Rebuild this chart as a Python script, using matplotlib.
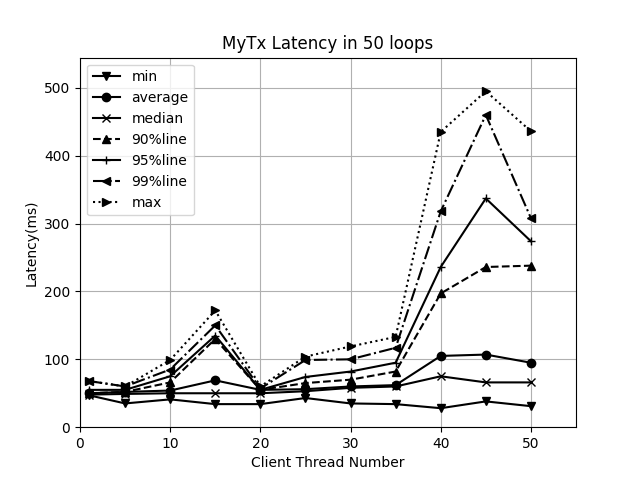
import matplotlib
matplotlib.use("Agg")
import matplotlib.pyplot as plt

threads = [1, 5, 10, 15, 20, 25, 30, 35, 40, 45, 50]

lat_min = [47, 35, 41, 34, 34, 43, 35, 34, 28, 38, 31]
lat_avg = [50, 52, 54, 69, 55, 56, 60, 62, 105, 107, 95]
lat_median = [48, 49, 50, 50, 50, 53, 58, 60, 75, 66, 66]
lat_90 = [50, 52, 66, 130, 55, 65, 70, 82, 197, 236, 238]
lat_95 = [55, 55, 75, 135, 55, 74, 82, 95, 236, 337, 274]
lat_99 = [68, 60, 85, 150, 57, 99, 100, 117, 318, 460, 308]
lat_max = [68, 60, 99, 172, 60, 104, 119, 133, 435, 495, 436]

series = [
    ("min", lat_min, "-", "v"),
    ("average", lat_avg, "-", "o"),
    ("median", lat_median, "-", "x"),
    ("90%line", lat_90, "--", "^"),
    ("95%line", lat_95, "-", "+"),
    ("99%line", lat_99, "-.", "<"),
    ("max", lat_max, ":", ">"),
]

fig, ax = plt.subplots(figsize=(6.4, 4.8), dpi=100)
for name, vals, ls, mk in series:
    ax.plot(threads, vals, color="black", linestyle=ls, marker=mk, label=name)

ax.set_xlim(0, max(threads) * 1.1)
ax.set_ylim(0, max(lat_max) * 1.1)
ax.set_title("MyTx Latency in 50 loops")
ax.set_xlabel("Client Thread Number")
ax.set_ylabel("Latency(ms)")
ax.grid(True)
ax.legend(loc="upper left")
plt.savefig("out.png", dpi=100)
